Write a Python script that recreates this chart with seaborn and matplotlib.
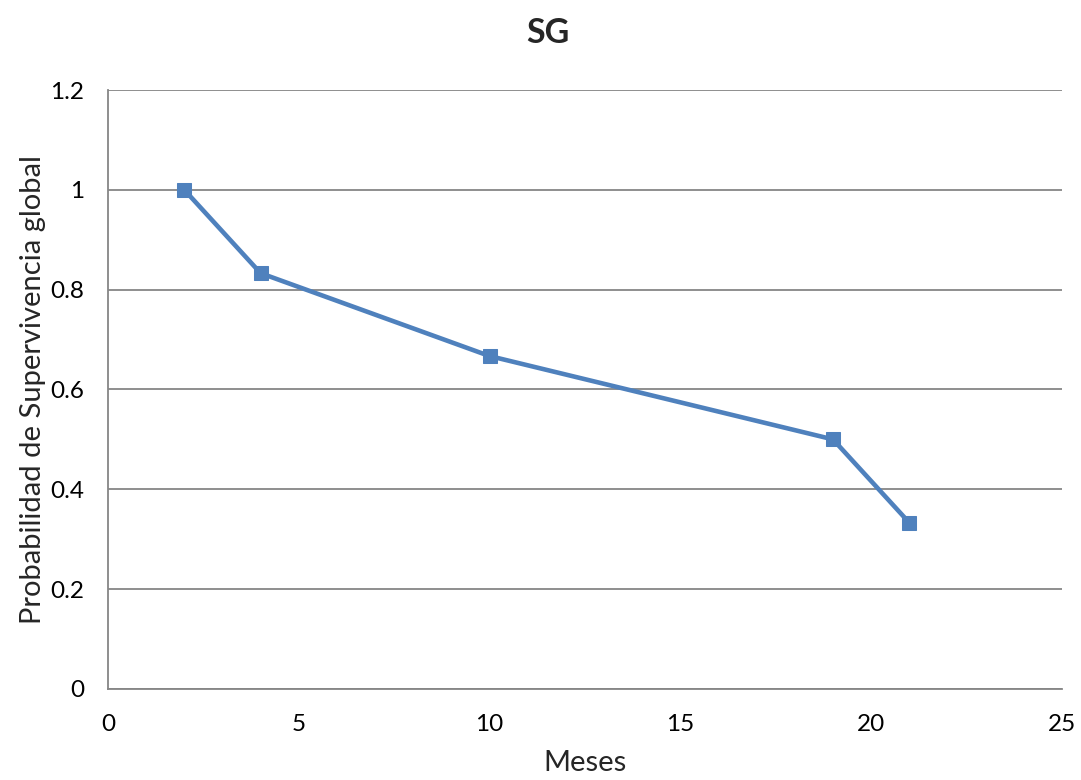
import matplotlib
matplotlib.use("Agg")
import matplotlib.pyplot as plt
import seaborn as sns
import pandas as pd

# Overall survival estimates by month
meses = [2, 4, 10, 19, 21]
supervivencia = [1.0, 0.833, 0.667, 0.5, 0.333]

x_ticks = [0, 5, 10, 15, 20, 25]
y_ticks = [0, 0.2, 0.4, 0.6, 0.8, 1.0, 1.2]
y_tick_labels = ["0", "0.2", "0.4", "0.6", "0.8", "1", "1.2"]

sns.set_theme(style="white")
plt.rcParams["font.family"] = ["Lato", "DejaVu Sans"]

df = pd.DataFrame({"Meses": meses, "SG": supervivencia})

fig = plt.figure(figsize=(10.81, 7.8), dpi=100)
ax = fig.add_axes([0.0999, 0.1167, 0.8825, 0.7679])

line_color = "#4F81BD"
grid_color = "#868686"

sns.lineplot(data=df, x="Meses", y="SG", ax=ax, color=line_color,
             linewidth=3.3, marker="s", markersize=10.5,
             markeredgecolor=line_color, markerfacecolor=line_color)

ax.set_xlim(0, 25)
ax.set_ylim(0, 1.2)
ax.set_xticks(x_ticks)
ax.set_xticklabels([str(t) for t in x_ticks])
ax.set_yticks(y_ticks)
ax.set_yticklabels(y_tick_labels)

ax.yaxis.grid(True, color=grid_color, linewidth=1.3)
ax.xaxis.grid(False)
ax.set_axisbelow(True)

for side in ["top", "right"]:
    ax.spines[side].set_visible(False)
for side in ["left", "bottom"]:
    ax.spines[side].set_color(grid_color)
    ax.spines[side].set_linewidth(1.3)

ax.tick_params(axis="both", length=0, labelsize=17.5, colors="black")
ax.tick_params(axis="x", pad=18)
ax.tick_params(axis="y", pad=17)

ax.set_xlabel("Meses", fontsize=21, labelpad=11)
ax.set_ylabel("Probabilidad de Supervivencia global", fontsize=21, labelpad=3)

fig.suptitle("SG", fontsize=24.5, fontweight="bold", x=0.507, y=0.978)

fig.savefig("out.png", dpi=100)
